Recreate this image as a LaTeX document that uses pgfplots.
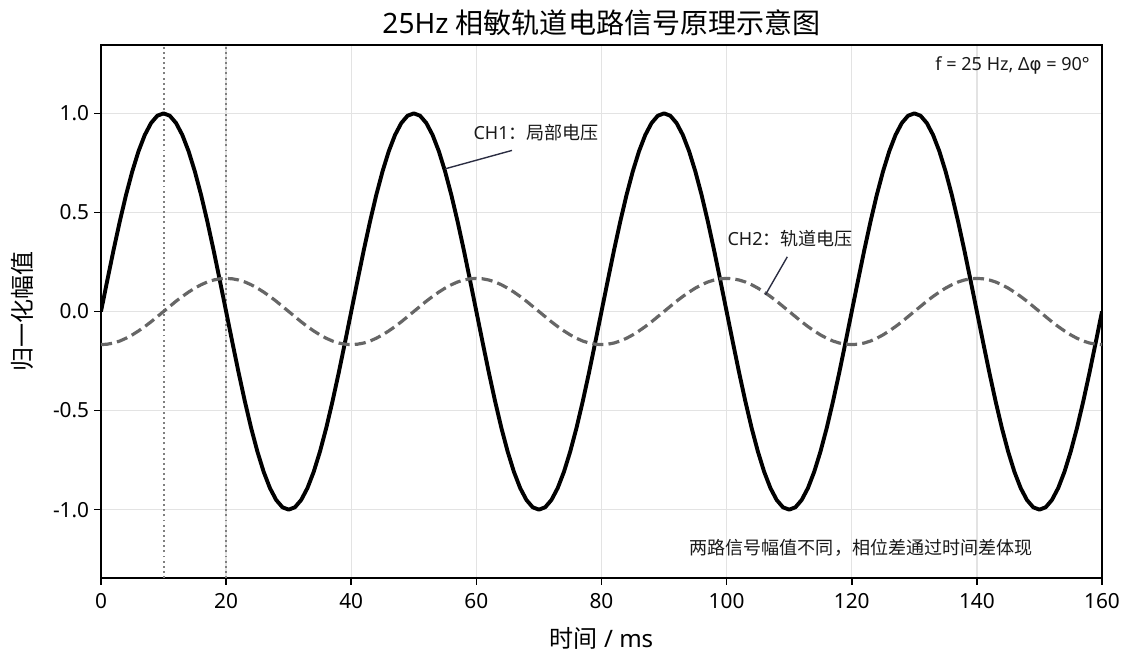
\documentclass[border=0pt]{standalone}
\usepackage{pgfplots}
\pgfplotsset{compat=1.18}
\usepackage{pgfplotstable}
\usepackage{fontspec}
\setmainfont{Noto Sans}
\newfontfamily\cjk{Noto Sans CJK SC}
\newfontfamily\dejavu{DejaVu Sans}
\definecolor{chtwo}{HTML}{666666}
\definecolor{vline}{HTML}{808080}
\definecolor{annline}{HTML}{2B2D42}
\definecolor{txt}{HTML}{1A1A1A}
\pgfplotstableread{
t ch1 ch2
0 0 -0.167
1 0.156 -0.165
2 0.309 -0.159
3 0.454 -0.149
4 0.588 -0.135
5 0.707 -0.118
6 0.809 -0.098
7 0.891 -0.076
8 0.951 -0.052
9 0.988 -0.026
10 1 0
11 0.988 0.026
12 0.951 0.052
13 0.891 0.076
14 0.809 0.098
15 0.707 0.118
16 0.588 0.135
17 0.454 0.149
18 0.309 0.159
19 0.156 0.165
20 0 0.167
21 -0.156 0.165
22 -0.309 0.159
23 -0.454 0.149
24 -0.588 0.135
25 -0.707 0.118
26 -0.809 0.098
27 -0.891 0.076
28 -0.951 0.052
29 -0.988 0.026
30 -1 0
31 -0.988 -0.026
32 -0.951 -0.052
33 -0.891 -0.076
34 -0.809 -0.098
35 -0.707 -0.118
36 -0.588 -0.135
37 -0.454 -0.149
38 -0.309 -0.159
39 -0.156 -0.165
40 0 -0.167
41 0.156 -0.165
42 0.309 -0.159
43 0.454 -0.149
44 0.588 -0.135
45 0.707 -0.118
46 0.809 -0.098
47 0.891 -0.076
48 0.951 -0.052
49 0.988 -0.026
50 1 0
51 0.988 0.026
52 0.951 0.052
53 0.891 0.076
54 0.809 0.098
55 0.707 0.118
56 0.588 0.135
57 0.454 0.149
58 0.309 0.159
59 0.156 0.165
60 0 0.167
61 -0.156 0.165
62 -0.309 0.159
63 -0.454 0.149
64 -0.588 0.135
65 -0.707 0.118
66 -0.809 0.098
67 -0.891 0.076
68 -0.951 0.052
69 -0.988 0.026
70 -1 0
71 -0.988 -0.026
72 -0.951 -0.052
73 -0.891 -0.076
74 -0.809 -0.098
75 -0.707 -0.118
76 -0.588 -0.135
77 -0.454 -0.149
78 -0.309 -0.159
79 -0.156 -0.165
80 0 -0.167
81 0.156 -0.165
82 0.309 -0.159
83 0.454 -0.149
84 0.588 -0.135
85 0.707 -0.118
86 0.809 -0.098
87 0.891 -0.076
88 0.951 -0.052
89 0.988 -0.026
90 1 0
91 0.988 0.026
92 0.951 0.052
93 0.891 0.076
94 0.809 0.098
95 0.707 0.118
96 0.588 0.135
97 0.454 0.149
98 0.309 0.159
99 0.156 0.165
100 0 0.167
101 -0.156 0.165
102 -0.309 0.159
103 -0.454 0.149
104 -0.588 0.135
105 -0.707 0.118
106 -0.809 0.098
107 -0.891 0.076
108 -0.951 0.052
109 -0.988 0.026
110 -1 0
111 -0.988 -0.026
112 -0.951 -0.052
113 -0.891 -0.076
114 -0.809 -0.098
115 -0.707 -0.118
116 -0.588 -0.135
117 -0.454 -0.149
118 -0.309 -0.159
119 -0.156 -0.165
120 0 -0.167
121 0.156 -0.165
122 0.309 -0.159
123 0.454 -0.149
124 0.588 -0.135
125 0.707 -0.118
126 0.809 -0.098
127 0.891 -0.076
128 0.951 -0.052
129 0.988 -0.026
130 1 0
131 0.988 0.026
132 0.951 0.052
133 0.891 0.076
134 0.809 0.098
135 0.707 0.118
136 0.588 0.135
137 0.454 0.149
138 0.309 0.159
139 0.156 0.165
140 0 0.167
141 -0.156 0.165
142 -0.309 0.159
143 -0.454 0.149
144 -0.588 0.135
145 -0.707 0.118
146 -0.809 0.098
147 -0.891 0.076
148 -0.951 0.052
149 -0.988 0.026
150 -1 0
151 -0.988 -0.026
152 -0.951 -0.052
153 -0.891 -0.076
154 -0.809 -0.098
155 -0.707 -0.118
156 -0.588 -0.135
157 -0.454 -0.149
158 -0.309 -0.159
159 -0.156 -0.165
160 0 -0.167
}\signal
\begin{document}
\begin{tikzpicture}
\useasboundingbox (-72.72pt,-56.16pt) rectangle (742.32pt,416.16pt);
\begin{axis}[
  scale only axis, width=720.72pt, height=383.76pt,
  xmin=0, xmax=160, ymin=-1.345, ymax=1.345,
  xtick={0,20,...,160},
  ytick={-1,-0.5,0,0.5,1},
  yticklabels={-1.0,-0.5,0.0,0.5,1.0},
  /pgf/number format/assume math mode=true,
  tick align=outside, tick pos=left,
  major tick length=5pt,
  tick style={line width=1.2pt, black},
  axis line style={line width=1.6pt},
  grid=major, grid style={color=black!11, line width=1pt},
  ticklabel style={font=\fontsize{15}{17}\selectfont},
  xticklabel style={yshift=-2.5pt},
  xlabel={{\cjk 时间} / ms}, ylabel={\cjk 归一化幅值},
  label style={font=\fontsize{17.3}{20}\selectfont},
  xlabel style={yshift=-6.5pt},
  ylabel style={yshift=7pt},
  title={25Hz {\cjk 相敏轨道电路信号原理示意图}},
  title style={font=\fontsize{20.2}{23}\selectfont, yshift=-3pt},
]
\addplot[vline, line width=1.4pt, dash pattern=on 1.4pt off 2.3pt, forget plot] coordinates {(10,-1.345) (10,1.345)};
\addplot[vline, line width=1.4pt, dash pattern=on 1.4pt off 2.3pt, forget plot] coordinates {(20,-1.345) (20,1.345)};
\addplot[black, line width=2.8pt, line join=round] table[x=t, y=ch1] {\signal};
\addplot[chtwo, line width=2.3pt, dash pattern=on 8pt off 3.7pt] table[x=t, y=ch2] {\signal};
\draw[annline, line width=1pt] (axis cs:65.7,0.813) -- (axis cs:55,0.72);
\draw[annline, line width=1pt] (axis cs:109.7,0.276) -- (axis cs:106.2,0.084);
\node[anchor=west, inner sep=0pt, text=txt, font=\fontsize{13}{15}\selectfont] at (axis cs:59.5,0.904) {CH1{\cjk ：局部电压}};
\node[anchor=west, inner sep=0pt, text=txt, font=\fontsize{13}{15}\selectfont] at (axis cs:100.1,0.369) {CH2{\cjk ：轨道电压}};
\node[anchor=east, inner sep=0pt, text=txt, font=\fontsize{13}{15}\selectfont] at (rel axis cs:0.988,0.961) {f = 25 Hz, Δ{\dejavu φ} = 90°};
\node[anchor=east, inner sep=0pt, text=txt, font=\fontsize{13}{15}\selectfont\cjk] at (rel axis cs:0.931,0.056) {两路信号幅值不同，相位差通过时间差体现};
\end{axis}
\end{tikzpicture}
\end{document}
